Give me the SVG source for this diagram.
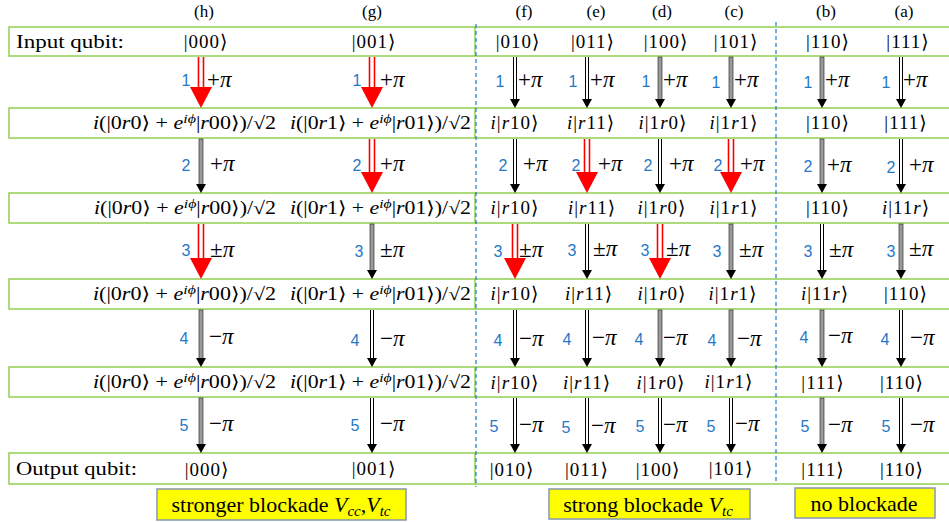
<svg xmlns="http://www.w3.org/2000/svg" xmlns:xlink="http://www.w3.org/1999/xlink" width="949" height="522" viewBox="0 0 949 522">
<style>
.g{fill:none;stroke:#92D050;stroke-width:1.5}
.bd{fill:none;stroke:#1F7BD0;stroke-width:1.2;stroke-dasharray:4 3}
.s{font-family:"Liberation Serif","DejaVu Serif","DejaVu Sans",serif;fill:#000}
.lab{font-size:17px;text-anchor:middle}
.k{font-size:19px;letter-spacing:1px;text-anchor:middle}
.it{font-style:italic}
.m{font-size:18px}
.sup{font-size:13px}
.n{font-family:"Liberation Sans",Arial,sans-serif;font-size:16px;fill:#1F78C8;text-anchor:middle}
.p{font-size:23px}
.dl{stroke:#000;stroke-width:1;fill:none}
.gr{fill:#9a9a9a;stroke:#333;stroke-width:0.7}
.rl{stroke:#FF0000;stroke-width:1.6;fill:none}
.yb{fill:#FFFF00;stroke:#8497B0;stroke-width:1.5}
.yt{font-size:22px;text-anchor:middle}
</style>
<defs>
<path id="hb" d="M-5,-9L5,-9L0,0Z" fill="#000"/>
<path id="hr" d="M-11,-21L11,-21L0,0Z" fill="#FF0000"/>
</defs>

<g id="frame">
<rect class="g" x="9" y="27" width="466" height="29"/>
<rect class="g" x="9" y="108" width="466" height="30"/>
<rect class="g" x="9" y="193" width="466" height="30"/>
<rect class="g" x="9" y="279" width="466" height="30"/>
<rect class="g" x="9" y="367" width="466" height="30"/>
<rect class="g" x="9" y="453" width="466" height="31"/>
<path class="g" d="M475,27H949M475,56H949M475,108H949M475,138H949M475,193H949M475,223H949M475,279H949M475,309H949M475,367H949M475,397H949M475,453H949M475,484H949"/>
<path class="bd" d="M476,24V487M776,22V484"/>
</g>

<g id="column-labels" class="s lab">
<text x="204" y="17">(h)</text>
<text x="372" y="17">(g)</text>
<text x="524" y="17">(f)</text>
<text x="596" y="17">(e)</text>
<text x="662" y="17">(d)</text>
<text x="734" y="17">(c)</text>
<text x="826" y="17">(b)</text>
<text x="904" y="17">(a)</text>
</g>

<g id="row-input" class="s">
<text x="16" y="48" font-size="19" textLength="108" lengthAdjust="spacingAndGlyphs">Input qubit:</text>
<g class="k">
<text x="206" y="48">|000⟩</text>
<text x="374" y="48">|001⟩</text>
<text x="518" y="48">|010⟩</text>
<text x="593" y="48">|011⟩</text>
<text x="666" y="48">|100⟩</text>
<text x="736" y="48">|101⟩</text>
<text x="828" y="48">|110⟩</text>
<text x="908" y="48">|111⟩</text>
</g>
</g>

<g id="row-1" class="s">
<text class="m" x="93" y="129" textLength="183" lengthAdjust="spacingAndGlyphs"><tspan class="it">i</tspan>(|0<tspan class="it">r</tspan>0⟩ + <tspan class="it">e</tspan><tspan class="sup it" dy="-6">iϕ</tspan><tspan dy="6">|</tspan><tspan class="it">r</tspan>00⟩)/√2</text>
<text class="m" x="290" y="129" textLength="181" lengthAdjust="spacingAndGlyphs"><tspan class="it">i</tspan>(|0<tspan class="it">r</tspan>1⟩ + <tspan class="it">e</tspan><tspan class="sup it" dy="-6">iϕ</tspan><tspan dy="6">|</tspan><tspan class="it">r</tspan>01⟩)/√2</text>
<g class="k">
<text x="515" y="129"><tspan class="it">i</tspan>|<tspan class="it">r</tspan>10⟩</text>
<text x="591" y="129"><tspan class="it">i</tspan>|<tspan class="it">r</tspan>11⟩</text>
<text x="663" y="129"><tspan class="it">i</tspan>|1<tspan class="it">r</tspan>0⟩</text>
<text x="734" y="129"><tspan class="it">i</tspan>|1<tspan class="it">r</tspan>1⟩</text>
<text x="828" y="129">|110⟩</text>
<text x="906" y="129">|111⟩</text>
</g>
</g>

<g id="row-2" class="s">
<text class="m" x="94" y="214" textLength="182" lengthAdjust="spacingAndGlyphs"><tspan class="it">i</tspan>(|0<tspan class="it">r</tspan>0⟩ + <tspan class="it">e</tspan><tspan class="sup it" dy="-6">iϕ</tspan><tspan dy="6">|</tspan><tspan class="it">r</tspan>00⟩)/√2</text>
<text class="m" x="290" y="214" textLength="181" lengthAdjust="spacingAndGlyphs"><tspan class="it">i</tspan>(|0<tspan class="it">r</tspan>1⟩ + <tspan class="it">e</tspan><tspan class="sup it" dy="-6">iϕ</tspan><tspan dy="6">|</tspan><tspan class="it">r</tspan>01⟩)/√2</text>
<g class="k">
<text x="515" y="214"><tspan class="it">i</tspan>|<tspan class="it">r</tspan>10⟩</text>
<text x="592" y="214"><tspan class="it">i</tspan>|<tspan class="it">r</tspan>11⟩</text>
<text x="662" y="214"><tspan class="it">i</tspan>|1<tspan class="it">r</tspan>0⟩</text>
<text x="734" y="214"><tspan class="it">i</tspan>|1<tspan class="it">r</tspan>1⟩</text>
<text x="828" y="214">|110⟩</text>
<text x="906" y="214"><tspan class="it">i</tspan>|11<tspan class="it">r</tspan>⟩</text>
</g>
</g>

<g id="row-3" class="s">
<text class="m" x="93" y="300" textLength="183" lengthAdjust="spacingAndGlyphs"><tspan class="it">i</tspan>(|0<tspan class="it">r</tspan>0⟩ + <tspan class="it">e</tspan><tspan class="sup it" dy="-6">iϕ</tspan><tspan dy="6">|</tspan><tspan class="it">r</tspan>00⟩)/√2</text>
<text class="m" x="290" y="300" textLength="181" lengthAdjust="spacingAndGlyphs"><tspan class="it">i</tspan>(|0<tspan class="it">r</tspan>1⟩ + <tspan class="it">e</tspan><tspan class="sup it" dy="-6">iϕ</tspan><tspan dy="6">|</tspan><tspan class="it">r</tspan>01⟩)/√2</text>
<g class="k">
<text x="515" y="300"><tspan class="it">i</tspan>|<tspan class="it">r</tspan>10⟩</text>
<text x="589" y="300"><tspan class="it">i</tspan>|<tspan class="it">r</tspan>11⟩</text>
<text x="662" y="300"><tspan class="it">i</tspan>|1<tspan class="it">r</tspan>0⟩</text>
<text x="733" y="300"><tspan class="it">i</tspan>|1<tspan class="it">r</tspan>1⟩</text>
<text x="825" y="300"><tspan class="it">i</tspan>|11<tspan class="it">r</tspan>⟩</text>
<text x="906" y="300">|110⟩</text>
</g>
</g>

<g id="row-4" class="s">
<text class="m" x="93" y="388" textLength="183" lengthAdjust="spacingAndGlyphs"><tspan class="it">i</tspan>(|0<tspan class="it">r</tspan>0⟩ + <tspan class="it">e</tspan><tspan class="sup it" dy="-6">iϕ</tspan><tspan dy="6">|</tspan><tspan class="it">r</tspan>00⟩)/√2</text>
<text class="m" x="290" y="388" textLength="181" lengthAdjust="spacingAndGlyphs"><tspan class="it">i</tspan>(|0<tspan class="it">r</tspan>1⟩ + <tspan class="it">e</tspan><tspan class="sup it" dy="-6">iϕ</tspan><tspan dy="6">|</tspan><tspan class="it">r</tspan>01⟩)/√2</text>
<g class="k">
<text x="515" y="389"><tspan class="it">i</tspan>|<tspan class="it">r</tspan>10⟩</text>
<text x="587" y="389"><tspan class="it">i</tspan>|<tspan class="it">r</tspan>11⟩</text>
<text x="661" y="389"><tspan class="it">i</tspan>|1<tspan class="it">r</tspan>0⟩</text>
<text x="729" y="388"><tspan class="it">i</tspan>|1<tspan class="it">r</tspan>1⟩</text>
<text x="823" y="389">|111⟩</text>
<text x="902" y="389">|110⟩</text>
</g>
</g>

<g id="row-output" class="s">
<text x="16" y="475" font-size="19" textLength="121" lengthAdjust="spacingAndGlyphs">Output qubit:</text>
<g class="k">
<text x="207" y="476">|000⟩</text>
<text x="374" y="475">|001⟩</text>
<text x="512" y="476">|010⟩</text>
<text x="587" y="476">|011⟩</text>
<text x="658" y="476">|100⟩</text>
<text x="731" y="475">|101⟩</text>
<text x="823" y="476">|111⟩</text>
<text x="902" y="476">|110⟩</text>
</g>
</g>

<g id="connectors">
<!-- step 1 -->
<path class="rl" d="M198.5,57V88M203.5,57V88"/><use href="#hr" x="201" y="108"/>
<path class="rl" d="M369.5,57V88M374.5,57V88"/><use href="#hr" x="372" y="108"/>
<path class="dl" d="M513.5,57V100M516.5,57V100"/><use href="#hb" x="515" y="108"/>
<path class="dl" d="M585.5,57V100M588.5,57V100"/><use href="#hb" x="587" y="108"/>
<rect class="gr" x="658" y="57" width="4" height="43"/><use href="#hb" x="660" y="108"/>
<rect class="gr" x="729" y="57" width="4" height="43"/><use href="#hb" x="731" y="108"/>
<rect class="gr" x="820" y="57" width="4" height="43"/><use href="#hb" x="822" y="108"/>
<path class="dl" d="M899.5,57V100M902.5,57V100"/><use href="#hb" x="901" y="108"/>
<!-- step 2 -->
<rect class="gr" x="199" y="139" width="4" height="46"/><use href="#hb" x="201" y="193"/>
<path class="rl" d="M369.5,139V173M374.5,139V173"/><use href="#hr" x="372" y="193"/>
<path class="dl" d="M513.5,139V185M516.5,139V185"/><use href="#hb" x="515" y="193"/>
<path class="rl" d="M584.5,139V173M589.5,139V173"/><use href="#hr" x="587" y="193"/>
<path class="dl" d="M658.5,139V185M661.5,139V185"/><use href="#hb" x="660" y="193"/>
<path class="rl" d="M728.5,139V173M733.5,139V173"/><use href="#hr" x="731" y="193"/>
<rect class="gr" x="820" y="139" width="4" height="46"/><use href="#hb" x="822" y="193"/>
<path class="dl" d="M899.5,139V185M902.5,139V185"/><use href="#hb" x="901" y="193"/>
<!-- step 3 -->
<path class="rl" d="M198.5,224V259M203.5,224V259"/><use href="#hr" x="201" y="279"/>
<rect class="gr" x="370" y="224" width="4" height="47"/><use href="#hb" x="372" y="279"/>
<path class="rl" d="M512.5,224V259M517.5,224V259"/><use href="#hr" x="515" y="279"/>
<path class="dl" d="M585.5,224V271M588.5,224V271"/><use href="#hb" x="587" y="279"/>
<path class="rl" d="M657.5,224V259M662.5,224V259"/><use href="#hr" x="660" y="279"/>
<rect class="gr" x="729" y="224" width="4" height="47"/><use href="#hb" x="731" y="279"/>
<path class="dl" d="M820.5,224V271M823.5,224V271"/><use href="#hb" x="822" y="279"/>
<rect class="gr" x="899" y="224" width="4" height="47"/><use href="#hb" x="901" y="279"/>
<!-- step 4 -->
<rect class="gr" x="199" y="310" width="4" height="49"/><use href="#hb" x="201" y="367"/>
<path class="dl" d="M370.5,310V359M373.5,310V359"/><use href="#hb" x="372" y="367"/>
<path class="dl" d="M513.5,310V359M516.5,310V359"/><use href="#hb" x="515" y="367"/>
<path class="dl" d="M585.5,310V359M588.5,310V359"/><use href="#hb" x="587" y="367"/>
<rect class="gr" x="658" y="310" width="4" height="49"/><use href="#hb" x="660" y="367"/>
<rect class="gr" x="729" y="310" width="4" height="49"/><use href="#hb" x="731" y="367"/>
<rect class="gr" x="820" y="310" width="4" height="49"/><use href="#hb" x="822" y="367"/>
<path class="dl" d="M899.5,310V359M902.5,310V359"/><use href="#hb" x="901" y="367"/>
<!-- step 5 -->
<rect class="gr" x="199" y="398" width="4" height="47"/><use href="#hb" x="201" y="453"/>
<path class="dl" d="M370.5,398V445M373.5,398V445"/><use href="#hb" x="372" y="453"/>
<path class="dl" d="M513.5,398V445M516.5,398V445"/><use href="#hb" x="515" y="453"/>
<path class="dl" d="M585.5,398V445M588.5,398V445"/><use href="#hb" x="587" y="453"/>
<path class="dl" d="M658.5,398V445M661.5,398V445"/><use href="#hb" x="660" y="453"/>
<path class="dl" d="M729.5,398V445M732.5,398V445"/><use href="#hb" x="731" y="453"/>
<rect class="gr" x="820" y="398" width="4" height="47"/><use href="#hb" x="822" y="453"/>
<path class="dl" d="M899.5,398V445M902.5,398V445"/><use href="#hb" x="901" y="453"/>

<!-- step numbers -->
<g class="n">
<text x="186" y="86">1</text><text x="357" y="86">1</text><text x="500" y="87">1</text><text x="573" y="87">1</text><text x="646" y="87">1</text><text x="716" y="88">1</text><text x="808" y="88">1</text><text x="886" y="88">1</text>
<text x="186" y="171">2</text><text x="357" y="171">2</text><text x="503" y="171">2</text><text x="576" y="171">2</text><text x="648" y="171">2</text><text x="718" y="171">2</text><text x="808" y="172">2</text><text x="891" y="173">2</text>
<text x="186" y="256">3</text><text x="359" y="257">3</text><text x="498" y="257">3</text><text x="572" y="256">3</text><text x="645" y="256">3</text><text x="717" y="257">3</text><text x="808" y="257">3</text><text x="891" y="257">3</text>
<text x="184" y="344">4</text><text x="355" y="346">4</text><text x="498" y="346">4</text><text x="567" y="345">4</text><text x="639" y="345">4</text><text x="712" y="346">4</text><text x="804" y="343">4</text><text x="885" y="345">4</text>
<text x="184" y="431">5</text><text x="355" y="431">5</text><text x="494" y="432">5</text><text x="566" y="433">5</text><text x="640" y="432">5</text><text x="711" y="432">5</text><text x="805" y="432">5</text><text x="886" y="432">5</text>
</g>
<!-- phases -->
<g class="s p">
<text x="207" y="87">+<tspan class="it">π</tspan></text><text x="380" y="87">+<tspan class="it">π</tspan></text><text x="518" y="87">+<tspan class="it">π</tspan></text><text x="590" y="87">+<tspan class="it">π</tspan></text><text x="663" y="87">+<tspan class="it">π</tspan></text><text x="734" y="87">+<tspan class="it">π</tspan></text><text x="825" y="87">+<tspan class="it">π</tspan></text><text x="903" y="87">+<tspan class="it">π</tspan></text>
<text x="210" y="171">+<tspan class="it">π</tspan></text><text x="380" y="171">+<tspan class="it">π</tspan></text><text x="523" y="171">+<tspan class="it">π</tspan></text><text x="598" y="171">+<tspan class="it">π</tspan></text><text x="669" y="171">+<tspan class="it">π</tspan></text><text x="740" y="171">+<tspan class="it">π</tspan></text><text x="827" y="172">+<tspan class="it">π</tspan></text><text x="909" y="172">+<tspan class="it">π</tspan></text>
<text x="210" y="257">±<tspan class="it">π</tspan></text><text x="380" y="257">±<tspan class="it">π</tspan></text><text x="519" y="257">±<tspan class="it">π</tspan></text><text x="593" y="256">±<tspan class="it">π</tspan></text><text x="666" y="256">±<tspan class="it">π</tspan></text><text x="739" y="257">±<tspan class="it">π</tspan></text><text x="829" y="257">±<tspan class="it">π</tspan></text><text x="909" y="256">±<tspan class="it">π</tspan></text>
<text x="209" y="344">−<tspan class="it">π</tspan></text><text x="380" y="346">−<tspan class="it">π</tspan></text><text x="519" y="346">−<tspan class="it">π</tspan></text><text x="592" y="345">−<tspan class="it">π</tspan></text><text x="663" y="345">−<tspan class="it">π</tspan></text><text x="737" y="346">−<tspan class="it">π</tspan></text><text x="828" y="343">−<tspan class="it">π</tspan></text><text x="910" y="345">−<tspan class="it">π</tspan></text>
<text x="209" y="431">−<tspan class="it">π</tspan></text><text x="380" y="431">−<tspan class="it">π</tspan></text><text x="519" y="432">−<tspan class="it">π</tspan></text><text x="591" y="433">−<tspan class="it">π</tspan></text><text x="663" y="432">−<tspan class="it">π</tspan></text><text x="735" y="431">−<tspan class="it">π</tspan></text><text x="828" y="432">−<tspan class="it">π</tspan></text><text x="910" y="432">−<tspan class="it">π</tspan></text>
</g>
</g>

<g id="box-stronger">
<rect class="yb" x="157" y="489" width="249" height="31"/>
<text class="s yt" x="281" y="512">stronger blockade <tspan class="it">V</tspan><tspan class="it" font-size="15" dy="4">cc</tspan><tspan dy="-4">,</tspan><tspan class="it">V</tspan><tspan class="it" font-size="15" dy="4">tc</tspan></text>
</g>
<g id="box-strong">
<rect class="yb" x="549" y="489" width="201" height="30"/>
<text class="s yt" x="648" y="512">strong blockade <tspan class="it">V</tspan><tspan class="it" font-size="15" dy="4">tc</tspan></text>
</g>
<g id="box-none">
<rect class="yb" x="795" y="488" width="140" height="30"/>
<text class="s yt" x="864" y="511">no blockade</text>
</g>
</svg>
